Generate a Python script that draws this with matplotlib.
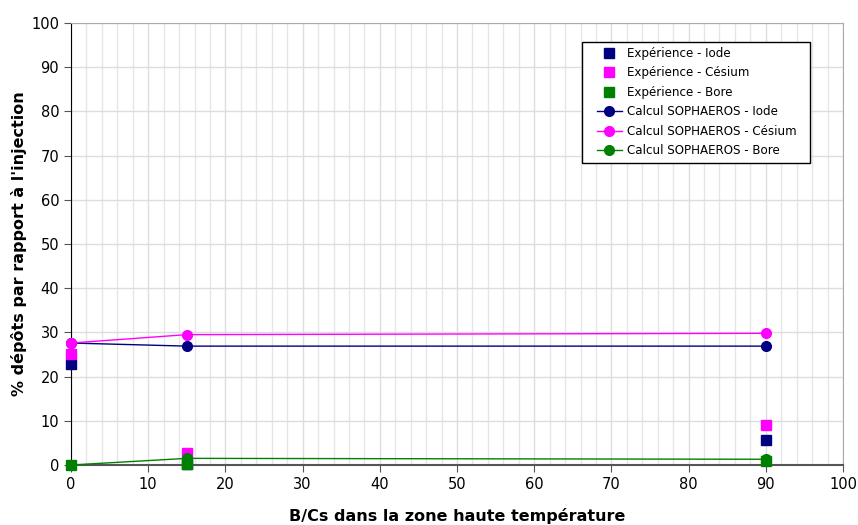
import numpy as np
import matplotlib.pyplot as plt
from matplotlib.patches import Rectangle
from matplotlib.ticker import MultipleLocator

# B/Cs values
bcs = [0, 15, 90]

# experimental deposits (%)
exp_iode = [22.8, 0.3, 5.6]
exp_cesium = [25.2, 2.7, 9.0]
exp_bore = [0.0, 0.3, 0.8]

# SOPHAEROS calculation (%)
calc_iode = [27.6, 26.9, 26.9]
calc_cesium = [27.6, 29.5, 29.8]
calc_bore = [0.0, 1.5, 1.3]

NAVY = '#000080'
MAG = '#FF00FF'
GREEN = '#008000'

fig = plt.figure(figsize=(8.58, 5.25), dpi=100)
ax = fig.add_axes([0.0828, 0.1143, 0.8997, 0.8417])

ax.plot(bcs, exp_iode, 's', color=NAVY, ms=7, ls='none', label='Expérience - Iode', zorder=4, clip_on=False)
ax.plot(bcs, exp_cesium, 's', color=MAG, ms=7, ls='none', label='Expérience - Césium', zorder=4, clip_on=False)
ax.plot(bcs, exp_bore, 's', color=GREEN, ms=7, ls='none', label='Expérience - Bore', zorder=6, clip_on=False)
ax.plot(bcs, calc_iode, '-o', color=NAVY, ms=7, lw=1, label='Calcul SOPHAEROS - Iode', zorder=3, clip_on=False)
ax.plot(bcs, calc_cesium, '-o', color=MAG, ms=7, lw=1, label='Calcul SOPHAEROS - Césium', zorder=3, clip_on=False)
ax.plot(bcs, calc_bore, '-o', color=GREEN, ms=7, lw=1, label='Calcul SOPHAEROS - Bore', zorder=6, clip_on=False)

ax.set_xlim(0, 100)
ax.set_ylim(0, 100)
ax.xaxis.set_major_locator(MultipleLocator(10))
ax.xaxis.set_minor_locator(MultipleLocator(2))
ax.yaxis.set_major_locator(MultipleLocator(10))
ax.grid(True, which='major', color='#dddddd', lw=1)
ax.grid(True, which='minor', axis='x', color='#e6e6e6', lw=1)
ax.set_axisbelow(True)
ax.tick_params(which='minor', length=0)
ax.tick_params(which='major', direction='out', length=5, labelsize=10.5, color='#555555')

for s in ['top', 'right']:
    ax.spines[s].set_color('#aaaaaa')
ax.spines['left'].set_color('black')
ax.spines['bottom'].set_color('#555555')
ax.spines['bottom'].set_linewidth(1.5)
ax.spines['bottom'].set_zorder(5)

ax.set_xlabel('B/Cs dans la zone haute température', fontsize=11.5, fontweight='bold', labelpad=12)
ax.set_ylabel("% dépôts par rapport à l'injection", fontsize=11.5, fontweight='bold', labelpad=3)

# legend box drawn separately so the padding matches the original
box = Rectangle((0.662, 0.683), 0.295, 0.274, transform=ax.transAxes, facecolor='white',
                edgecolor='black', lw=1, zorder=4.9, clip_on=False)
ax.add_patch(box)
leg = ax.legend(loc='upper left', bbox_to_anchor=(0.681, 0.946), frameon=False,
                fontsize=8.6, handlelength=2.1, borderpad=0, labelspacing=0.54,
                handletextpad=0.45, borderaxespad=0)

plt.savefig('out.png', dpi=100)
